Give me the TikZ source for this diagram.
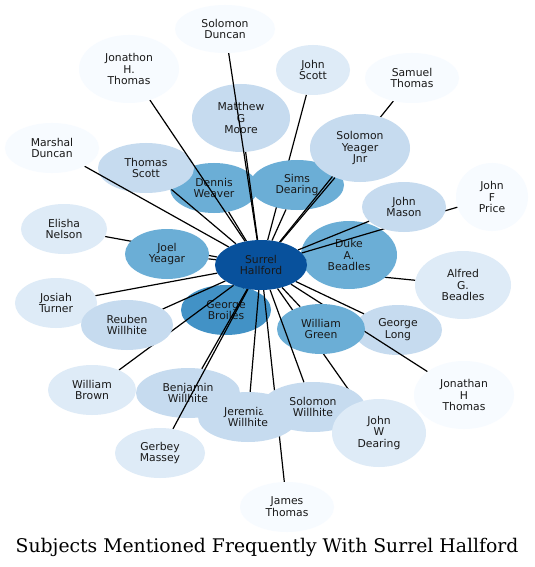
\documentclass[tikz,border=0pt]{standalone}
\usepackage{fontspec}
\setmainfont{DejaVu Sans}
\newfontfamily\ttlfont{DejaVu Serif}
\usetikzlibrary{shapes.geometric}
\definecolor{b1}{HTML}{08519C}
\definecolor{b2}{HTML}{4292C6}
\definecolor{b3}{HTML}{6BAED6}
\definecolor{b4}{HTML}{C6DBEF}
\definecolor{b5}{HTML}{DEEBF7}
\definecolor{b6}{HTML}{F7FBFF}
\newcommand\ndfont{\fontsize{10.8bp}{11.8bp}\selectfont}
\pgfdeclarelayer{bgl}
\pgfdeclarelayer{la}
\pgfdeclarelayer{lb}
\pgfdeclarelayer{lc}
\pgfdeclarelayer{ld}
\pgfdeclarelayer{le}
\pgfdeclarelayer{lg}
\pgfsetlayers{bgl,la,lb,lc,ld,le,main,lg}
\tikzset{
  nd/.style={ellipse, inner sep=0pt, align=center, font=\ndfont, text=black!90},
  sz/.style 2 args={minimum width=#1bp, minimum height=#2bp},
  ed/.style={draw=black, line width=1.2bp},
}
\begin{document}
\begin{tikzpicture}[x=1bp,y=-1bp]
\useasboundingbox (0,0) rectangle (535,567);
\begin{pgfonlayer}{bgl}
\fill[white] (0,0) rectangle (535,567);
\end{pgfonlayer}
% group a nodes
\begin{pgfonlayer}{la}
\node[nd, fill=b2, sz={90}{50}] (gb) at (226,310) {George\\Broiles};
\node[nd, fill=b3, sz={88}{50}] (dw) at (214,188) {Dennis\\Weaver};
\node[nd, fill=b4, sz={98}{68}] (mgm) at (241,118) {Matthew\\G\\Moore};
\node[nd, fill=b4, sz={96}{50}] (ts) at (146,168) {Thomas\\Scott};
\node[nd, fill=b4, sz={104}{50}] (bw) at (188,393) {Benjamin\\Willhite};
\node[nd, fill=b4, sz={88}{50}] (gl) at (398,330) {George\\Long};
\end{pgfonlayer}
% group c nodes
\begin{pgfonlayer}{lc}
\node[nd, fill=b3, sz={94}{50}] (sdr) at (297,185) {Sims\\Dearing};
\node[nd, fill=b3, sz={84}{50}] (jy) at (167,254) {Joel\\Yeagar};
\node[nd, fill=b3, sz={96}{68}] (dab) at (349,255) {Duke\\A.\\Beadles};
\node[nd, fill=b3, sz={88}{50}] (wg) at (321,329) {William\\Green};
\node[nd, fill=b4, sz={100}{50}] (jw) at (248,417) {Jeremiah\\Willhite};
\node[nd, fill=b4, sz={104}{50}] (sw) at (313,407) {Solomon\\Willhite};
\end{pgfonlayer}
% group e nodes
\begin{pgfonlayer}{le}
\node[nd, fill=b4, sz={100}{68}] (sy) at (360,148) {Solomon\\Yeager\\Jnr};
\node[nd, fill=b4, sz={84}{50}] (jm) at (404,207) {John\\Mason};
\end{pgfonlayer}
% group g nodes
\begin{pgfonlayer}{lg}
\node[nd, fill=b1, sz={92}{50}] (ctr) at (261,265) {Surrel\\Hallford};
\node[nd, fill=b6, sz={100}{48}] (sd) at (225,29) {Solomon\\Duncan};
\node[nd, fill=b6, sz={100}{68}] (jht) at (129,69) {Jonathon\\H.\\Thomas};
\node[nd, fill=b5, sz={74}{50}] (js) at (313,70) {John\\Scott};
\node[nd, fill=b6, sz={94}{50}] (st) at (412,78) {Samuel\\Thomas};
\node[nd, fill=b6, sz={94}{50}] (md) at (52,148) {Marshal\\Duncan};
\node[nd, fill=b6, sz={72}{68}] (jfp) at (492,197) {John\\F\\Price};
\node[nd, fill=b5, sz={86}{50}] (en) at (64,229) {Elisha\\Nelson};
\node[nd, fill=b5, sz={96}{68}] (agb) at (463,285) {Alfred\\G.\\Beadles};
\node[nd, fill=b5, sz={82}{50}] (jt) at (56,303) {Josiah\\Turner};
\node[nd, fill=b4, sz={92}{50}] (rw) at (127,325) {Reuben\\Willhite};
\node[nd, fill=b5, sz={88}{50}] (wb) at (92,390) {William\\Brown};
\node[nd, fill=b5, sz={94}{68}] (jwd) at (379,433) {John\\W\\Dearing};
\node[nd, fill=b6, sz={100}{68}] (jhth) at (464,395) {Jonathan\\H\\Thomas};
\node[nd, fill=b5, sz={90}{50}] (gm) at (160,453) {Gerbey\\Massey};
\node[nd, fill=b6, sz={94}{50}] (jat) at (287,507) {James\\Thomas};
\node[font=\ttlfont\fontsize{18.8bp}{22bp}\selectfont, anchor=base, inner sep=0pt] (title) at (267,552) {Subjects Mentioned Frequently With Surrel Hallford};
\end{pgfonlayer}
% group b edges
\begin{pgfonlayer}{lb}
\draw[ed] (js) -- (ctr);
\draw[ed] (en) -- (ctr);
\draw[ed] (agb) -- (ctr);
\draw[ed] (jwd) -- (ctr);
\draw[ed] (jhth) -- (ctr);
\draw[ed] (jat) -- (ctr);
\draw[ed] (wb) -- (ctr);
\end{pgfonlayer}
% group d edges
\begin{pgfonlayer}{ld}
\draw[ed] (st) -- (ctr);
\draw[ed] (jfp) -- (ctr);
\end{pgfonlayer}
% group f edges
\draw[ed] (sd) -- (ctr);
\draw[ed] (jht) -- (ctr);
\draw[ed] (mgm) -- (ctr);
\draw[ed] (ts) -- (ctr);
\draw[ed] (dw) -- (ctr);
\draw[ed] (sdr) -- (ctr);
\draw[ed] (sy) -- (ctr);
\draw[ed] (jm) -- (ctr);
\draw[ed] (dab) -- (ctr);
\draw[ed] (jy) -- (ctr);
\draw[ed] (md) -- (ctr);
\draw[ed] (jt) -- (ctr);
\draw[ed] (rw) -- (ctr);
\draw[ed] (gb) -- (ctr);
\draw[ed] (bw) -- (ctr);
\draw[ed] (gm) -- (ctr);
\draw[ed] (jw) -- (ctr);
\draw[ed] (sw) -- (ctr);
\draw[ed] (wg) -- (ctr);
\draw[ed] (gl) -- (ctr);
\end{tikzpicture}
\end{document}
